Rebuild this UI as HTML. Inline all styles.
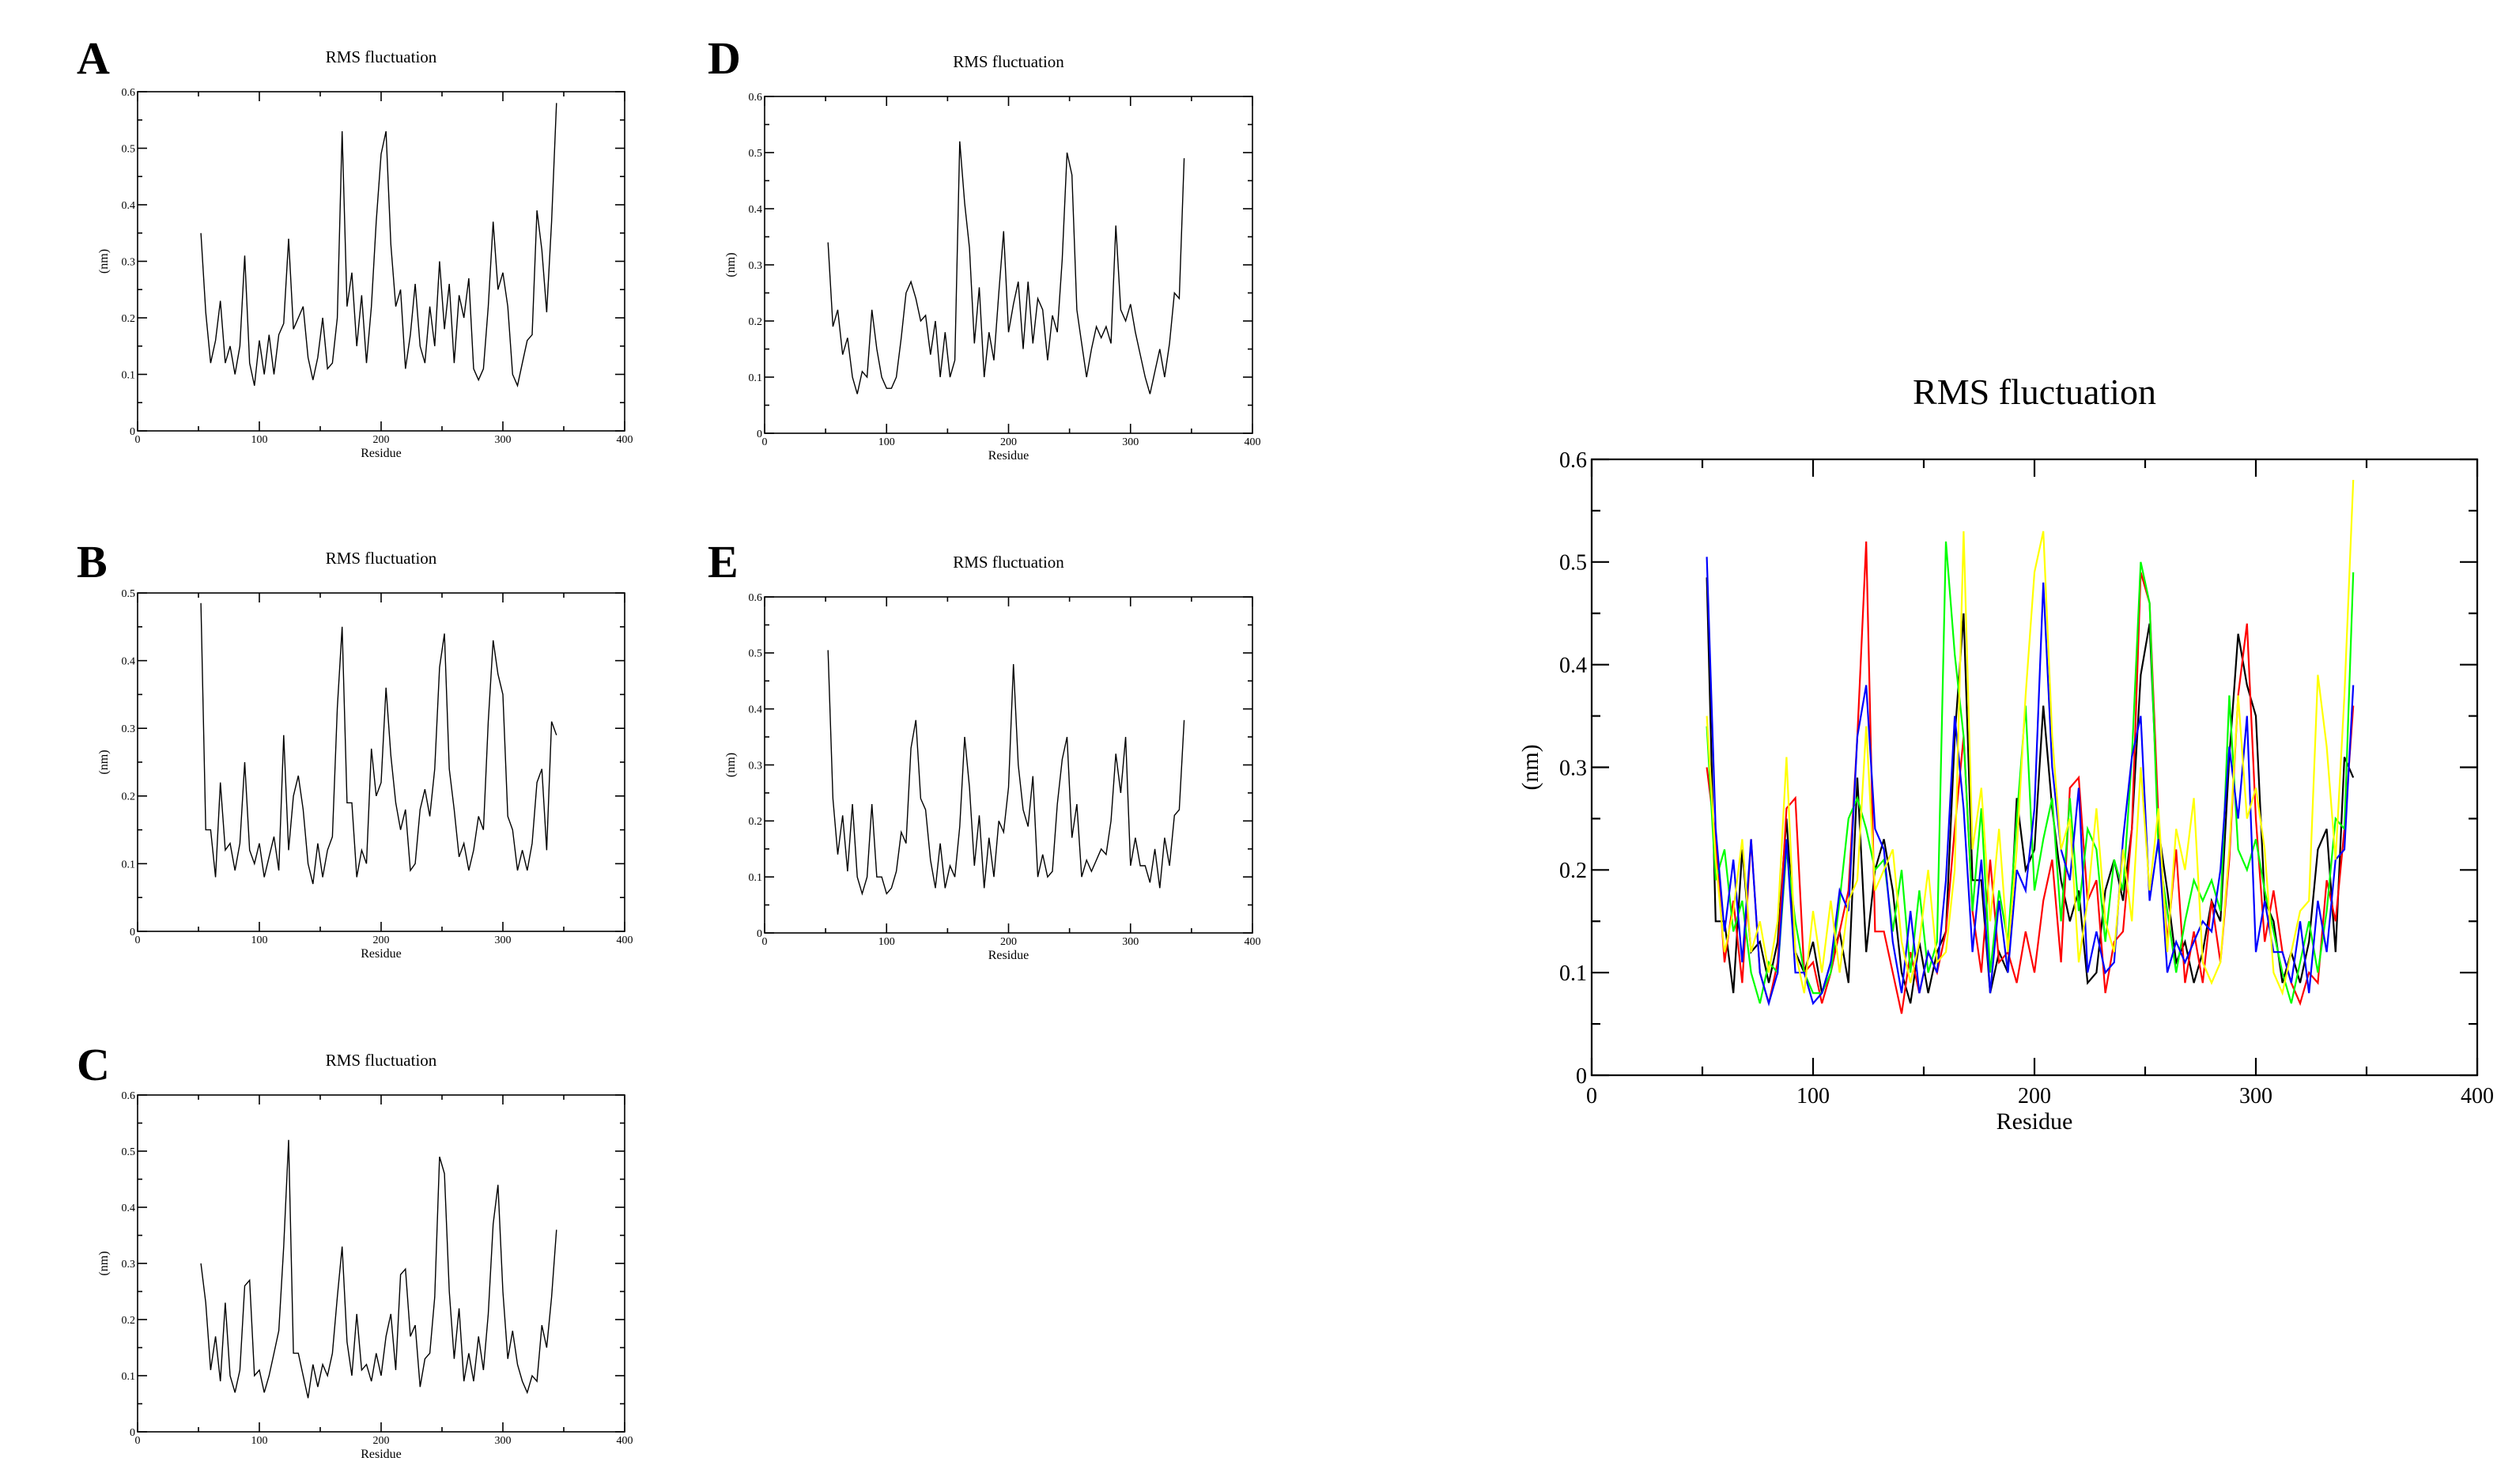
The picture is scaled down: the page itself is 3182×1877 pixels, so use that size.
<!DOCTYPE html>
<html><head><meta charset="utf-8"><style>
html,body{margin:0;padding:0;background:#fff;}
svg{display:block;font-family:"Liberation Serif",serif;}
</style></head><body>
<svg id="fig" xmlns="http://www.w3.org/2000/svg" width="3182" height="1877" viewBox="0 0 3182 1877"></svg>
<script>
const residues=[52,56,60,64,68,72,76,80,84,88,92,96,100,104,108,112,116,120,124,128,132,136,140,144,148,152,156,160,164,168,172,176,180,184,188,192,196,200,204,208,212,216,220,224,228,232,236,240,244,248,252,256,260,264,268,272,276,280,284,288,292,296,300,304,308,312,316,320,324,328,332,336,340,344];
const seriesA=[0.35,0.21,0.12,0.16,0.23,0.12,0.15,0.10,0.15,0.31,0.12,0.08,0.16,0.10,0.17,0.10,0.17,0.19,0.34,0.18,0.20,0.22,0.13,0.09,0.13,0.20,0.11,0.12,0.20,0.53,0.22,0.28,0.15,0.24,0.12,0.22,0.37,0.49,0.53,0.33,0.22,0.25,0.11,0.17,0.26,0.15,0.12,0.22,0.15,0.30,0.18,0.26,0.12,0.24,0.20,0.27,0.11,0.09,0.11,0.22,0.37,0.25,0.28,0.22,0.10,0.08,0.12,0.16,0.17,0.39,0.32,0.21,0.37,0.58];
const seriesB=[0.485,0.15,0.15,0.08,0.22,0.12,0.13,0.09,0.13,0.25,0.12,0.10,0.13,0.08,0.11,0.14,0.09,0.29,0.12,0.20,0.23,0.18,0.10,0.07,0.13,0.08,0.12,0.14,0.33,0.45,0.19,0.19,0.08,0.12,0.10,0.27,0.20,0.22,0.36,0.26,0.19,0.15,0.18,0.09,0.10,0.18,0.21,0.17,0.24,0.39,0.44,0.24,0.18,0.11,0.13,0.09,0.12,0.17,0.15,0.31,0.43,0.38,0.35,0.17,0.15,0.09,0.12,0.09,0.13,0.22,0.24,0.12,0.31,0.29];
const seriesC=[0.30,0.23,0.11,0.17,0.09,0.23,0.10,0.07,0.11,0.26,0.27,0.10,0.11,0.07,0.10,0.14,0.18,0.33,0.52,0.14,0.14,0.10,0.06,0.12,0.08,0.12,0.10,0.14,0.24,0.33,0.16,0.10,0.21,0.11,0.12,0.09,0.14,0.10,0.17,0.21,0.11,0.28,0.29,0.17,0.19,0.08,0.13,0.14,0.24,0.49,0.46,0.25,0.13,0.22,0.09,0.14,0.09,0.17,0.11,0.21,0.37,0.44,0.25,0.13,0.18,0.12,0.09,0.07,0.10,0.09,0.19,0.15,0.24,0.36];
const seriesD=[0.34,0.19,0.22,0.14,0.17,0.10,0.07,0.11,0.10,0.22,0.15,0.10,0.08,0.08,0.10,0.17,0.25,0.27,0.24,0.20,0.21,0.14,0.20,0.10,0.18,0.10,0.13,0.52,0.41,0.33,0.16,0.26,0.10,0.18,0.13,0.25,0.36,0.18,0.23,0.27,0.15,0.27,0.16,0.24,0.22,0.13,0.21,0.18,0.31,0.50,0.46,0.22,0.16,0.10,0.15,0.19,0.17,0.19,0.16,0.37,0.22,0.20,0.23,0.18,0.14,0.10,0.07,0.11,0.15,0.10,0.16,0.25,0.24,0.49];
const seriesE=[0.505,0.24,0.14,0.21,0.11,0.23,0.10,0.07,0.10,0.23,0.10,0.10,0.07,0.08,0.11,0.18,0.16,0.33,0.38,0.24,0.22,0.13,0.08,0.16,0.08,0.12,0.10,0.19,0.35,0.26,0.12,0.21,0.08,0.17,0.10,0.20,0.18,0.26,0.48,0.30,0.22,0.19,0.28,0.10,0.14,0.10,0.11,0.23,0.31,0.35,0.17,0.23,0.10,0.13,0.11,0.13,0.15,0.14,0.20,0.32,0.25,0.35,0.12,0.17,0.12,0.12,0.09,0.15,0.08,0.17,0.12,0.21,0.22,0.38];
const xTicks=[0,100,200,300,400];
const yTicks06=["0","0.1","0.2","0.3","0.4","0.5","0.6"];
const yTicks05=["0","0.1","0.2","0.3","0.4","0.5"];

const NS="http://www.w3.org/2000/svg";
const svg=document.getElementById('fig');
function mk(tag,attrs,parent,text){const e=document.createElementNS(NS,tag);for(const k in attrs)e.setAttribute(k,attrs[k]);if(text!==undefined)e.textContent=text;(parent||svg).appendChild(e);return e;}

function chart(name,box,ymax,yLabels,series,colors,sz){
  const g=mk('g',{});
  
  
  const X=r=>box.x0+(r/400)*(box.x1-box.x0);
  const Y=v=>box.y1-(v/ymax)*(box.y1-box.y0);
  // series
  series.forEach((s,i)=>{
    let d='';
    residues.forEach((r,j)=>{d+=(j?'L':'M')+X(r).toFixed(1)+' '+Y(s[j]).toFixed(1);});
    const p=mk('path',{d:d,fill:'none',stroke:colors[i],'stroke-width':sz.lw,'stroke-linejoin':'miter'},g);
    
    
  });
  // frame
  const fr=mk('rect',{x:box.x0,y:box.y0,width:box.x1-box.x0,height:box.y1-box.y0,fill:'none',stroke:'#000','stroke-width':sz.fw},g);
  
  
  // x ticks
  for(let r=0;r<=400;r+=50){
    const major=r%100===0, L=major?sz.tk:sz.tk/2;
    mk('line',{x1:X(r),x2:X(r),y1:box.y1,y2:box.y1-L,stroke:'#000','stroke-width':sz.fw},g);
    mk('line',{x1:X(r),x2:X(r),y1:box.y0,y2:box.y0+L,stroke:'#000','stroke-width':sz.fw},g);
  }
  xTicks.forEach(r=>{
    const t=mk('text',{x:X(r),y:box.y1+sz.xo,'font-size':sz.tf,'text-anchor':'middle'},g,String(r));
    
    
  });
  // y ticks
  for(let k=0;k<=ymax*20+0.01;k++){
    const v=k*0.05, major=k%2===0, L=major?sz.tk:sz.tk/2;
    mk('line',{x1:box.x0,x2:box.x0+L,y1:Y(v),y2:Y(v),stroke:'#000','stroke-width':sz.fw},g);
    mk('line',{x1:box.x1,x2:box.x1-L,y1:Y(v),y2:Y(v),stroke:'#000','stroke-width':sz.fw},g);
  }
  yLabels.forEach((lab,k)=>{
    const t=mk('text',{x:box.x0-sz.yo,y:Y(k*0.1)+sz.tf*0.35,'font-size':sz.tf,'text-anchor':'end'},g,lab);
    
    
  });
  const cx=(box.x0+box.x1)/2, cy=(box.y0+box.y1)/2;
  const tt=mk('text',{x:cx,y:box.y0-sz.ti,'font-size':sz.tt,'text-anchor':'middle'},g,'RMS fluctuation');
  
  
  const xl=mk('text',{x:cx,y:box.y1+sz.xl,'font-size':sz.lf,'text-anchor':'middle'},g,'Residue');
  
  
  const yx=box.x0-sz.yl;
  const yl=mk('text',{x:yx,y:cy,'font-size':sz.lf,'text-anchor':'middle',transform:`rotate(-90 ${yx} ${cy})`},g,'(nm)');
  
  
  if(box.letter){
    const L=mk('text',{x:box.lx,y:box.ly,'font-size':58,'font-weight':'bold'},g,box.letter);
    
    
  }
}
const small={lw:1.4,fw:1.6,tk:12,tf:14,xo:15,yo:3,ti:37,tt:21,xl:33,lf:16,yl:38};
chart('panel-a',{x0:174,x1:790,y0:116,y1:545,letter:'A',lx:97,ly:93},0.6,yTicks06,[seriesA],['#000'],small);
chart('panel-b',{x0:174,x1:790,y0:750,y1:1178,letter:'B',lx:97,ly:730},0.5,yTicks05,[seriesB],['#000'],small);
chart('panel-c',{x0:174,x1:790,y0:1385,y1:1811,letter:'C',lx:97,ly:1366},0.6,yTicks06,[seriesC],['#000'],small);
chart('panel-d',{x0:967,x1:1584,y0:122,y1:548,letter:'D',lx:895,ly:93},0.6,yTicks06,[seriesD],['#000'],small);
chart('panel-e',{x0:967,x1:1584,y0:755,y1:1180,letter:'E',lx:895,ly:730},0.6,yTicks06,[seriesE],['#000'],small);
const big={lw:2.2,fw:2.2,tk:22,tf:28,xo:35,yo:6,ti:70,tt:46,xl:68,lf:30,yl:68};
chart('panel-overlay',{x0:2013,x1:3133,y0:581,y1:1360},0.6,yTicks06,[seriesB,seriesC,seriesD,seriesE,seriesA],['#000','#ff0000','#00ff00','#0000ff','#ffff00'],big);
</script>
</body></html>
